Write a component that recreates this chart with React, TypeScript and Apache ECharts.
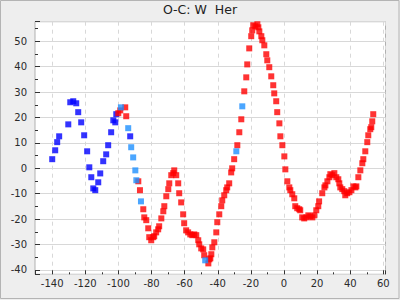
import React, { useEffect, useRef } from "react";
import * as echarts from "echarts";

const titleText = "O-C: W  Her";

const blueSeries: [number, number][] = [
  [-140, 3.6], [-138.2, 7.1], [-137, 10.3], [-135.8, 12.6], [-130.3, 17.3], [-129.1, 26.0],
  [-127.3, 26.4], [-125.5, 25.6], [-124.3, 22.1], [-122.5, 18.1], [-120.7, 13.0], [-118.9, 6.7],
  [-117.6, 0.4], [-116.4, -3.5], [-115.2, -7.9], [-114, -8.6], [-112.2, -5.5], [-111, -2.0],
  [-109.2, 2.8], [-107.4, 5.5], [-106.2, 9.1], [-104.4, 14.2], [-103.1, 18.9], [-101.9, 18.1],
  [-101.3, 21.3], [-92.9, 12.6],
];

const lightBlueSeries: [number, number][] = [
  [-98.5, 24.0], [-94.1, 15.8], [-92.3, 8.3], [-91.1, 4.3], [-89.8, -0.8], [-89.2, -4.7],
  [-86.4, -13.0], [-47.6, -36.2], [-28.8, 6.7], [-25.2, 24.4],
];

const redSeries: [number, number][] = [
  [-100.1, 21.7], [-98.9, 22.8], [-95.9, 24.0], [-95.3, 20.5], [-88.0, -5.1], [-87.0, -8.6],
  [-85.0, -16.1], [-84.4, -19.3], [-83.2, -20.4], [-82.0, -23.6], [-81.4, -27.1], [-80.2, -28.3],
  [-79.0, -27.1], [-78.4, -26.7], [-77.2, -25.2], [-76.0, -24.0], [-75.4, -22.8], [-74.1, -19.7],
  [-72.9, -16.9], [-72.3, -14.9], [-71.1, -11.0], [-69.9, -8.2], [-69.3, -5.9], [-68.1, -2.7],
  [-66.9, -1.9], [-66.3, -0.8], [-65.1, -2.7], [-63.9, -5.9], [-63.3, -9.8], [-62.1, -13.4],
  [-60.9, -18.1], [-60.3, -21.6], [-59.1, -24.4], [-57.9, -25.2], [-56.6, -26.0], [-55.4, -26.3],
  [-54.2, -26.0], [-53.0, -26.3], [-51.8, -28.3], [-51.2, -29.9], [-50.0, -31.5], [-48.8, -31.9],
  [-48.2, -34.2], [-45.7, -37.4], [-45.1, -35.8], [-44.5, -35.4], [-43.9, -33.8], [-43.3, -31.1],
  [-42.1, -29.1], [-40.9, -25.2], [-40.3, -21.2], [-39.1, -18.1], [-37.9, -14.9], [-37.3, -12.6],
  [-36.1, -10.6], [-34.9, -8.6], [-34.3, -7.5], [-33.1, -5.9], [-31.9, -1.6], [-31.3, 0.0],
  [-30.1, 3.6], [-28.2, 9.1], [-27.0, 14.2], [-25.8, 19.3], [-24.0, 30.3], [-22.8, 35.8],
  [-22.2, 40.9], [-21.0, 47.2], [-19.8, 52.0], [-19.2, 54.3], [-18.6, 56.3], [-17.3, 55.9],
  [-16.1, 56.7], [-15.5, 55.5], [-14.9, 53.9], [-13.7, 52.0], [-13.1, 50.4], [-11.9, 48.4],
  [-10.7, 44.9], [-10.1, 42.5], [-8.9, 39.8], [-7.7, 36.2], [-6.5, 32.7], [-5.9, 29.5],
  [-4.7, 26.4], [-4.1, 22.1], [-2.8, 17.7], [-2.2, 12.6], [-1.0, 9.1], [0.2, 4.7],
  [0.8, -0.4], [2.0, -5.1], [3.2, -7.5], [3.8, -8.6], [5.0, -10.2], [6.2, -11.8],
  [6.8, -14.9], [8.0, -15.7], [9.2, -16.1], [9.8, -16.5], [11.0, -19.3], [12.2, -19.7],
  [13.5, -19.3], [14.7, -18.5], [15.9, -18.9], [17.1, -19.3], [18.3, -18.5], [19.5, -16.5],
  [20.7, -14.9], [21.2, -13.0], [23.1, -9.8], [24.4, -7.5], [25.0, -6.7], [26.2, -5.1],
  [27.4, -3.5], [28.0, -2.3], [29.2, -2.7], [30.4, -1.9], [31.6, -3.5], [32.8, -4.3],
  [33.4, -5.9], [34.0, -7.5], [35.2, -8.2], [36.4, -9.0], [37.0, -10.6], [38.2, -9.8],
  [39.5, -9.4], [40.7, -8.6], [41.9, -7.1], [43.1, -7.5], [43.7, -7.1], [44.9, -3.5],
  [46.1, -0.8], [47.3, 2.0], [47.9, 3.6], [49.1, 6.7], [50.3, 10.3], [50.9, 13.0],
  [52.1, 15.4], [52.7, 16.2], [53.3, 18.5], [53.9, 21.3],
];

const xRange = [-150.4, 61.3];
const yRange = [-41.7, 57.7];

const FONT = "DejaVu Sans";

export default function App() {
  const ref = useRef<HTMLDivElement>(null);
  useEffect(() => {
    if (!ref.current) return;
    const chart = echarts.init(ref.current, undefined, { renderer: "svg" });
    const labelStyle = { color: "#2a2a2a", fontSize: 10, fontFamily: FONT };
    chart.setOption({
      animation: false,
      backgroundColor: "#eeeeee",
      title: {
        text: titleText,
        left: "center",
        top: 3,
        padding: 0,
        textStyle: { fontFamily: FONT, fontSize: 12.5, fontWeight: "normal", color: "#222" },
      },
      graphic: [
        {
          type: "rect",
          shape: { x: 0.5, y: 0.5, width: 398.5, height: 298 },
          style: { fill: "none", stroke: "#b4b4b4", lineWidth: 1 },
          silent: true,
        },
      ],
      grid: {
        left: 35,
        right: 14.5,
        top: 21.7,
        bottom: 25.7,
        show: true,
        backgroundColor: "#ffffff",
        borderColor: "#b0b0b0",
        borderWidth: 1,
      },
      xAxis: {
        type: "value",
        position: "bottom",
        min: xRange[0],
        max: xRange[1],
        splitNumber: 10,
        axisLine: { show: false, onZero: false },
        axisTick: { show: true, inside: true, length: 4, lineStyle: { color: "#333" } },
        minorTick: { show: true, splitNumber: 2, length: 2, lineStyle: { color: "#333" } },
        axisLabel: {
          ...labelStyle,
          margin: 4,
          formatter: (v: number) => (Math.abs(v % 20) < 1e-6 ? String(v) : ""),
        },
        splitLine: { show: true, lineStyle: { color: "#d8d8d8", type: [4, 4] } },
      },
      yAxis: {
        type: "value",
        position: "left",
        min: yRange[0],
        max: yRange[1],
        splitNumber: 10,
        axisLine: { show: false, onZero: false },
        axisTick: { show: true, inside: true, length: 5, lineStyle: { color: "#333" } },
        minorTick: { show: true, splitNumber: 2, length: 3, lineStyle: { color: "#333" } },
        axisLabel: {
          ...labelStyle,
          margin: 8,
          formatter: (v: number) => (Math.abs(v % 10) < 1e-6 ? String(v) : ""),
        },
        splitLine: { show: true, lineStyle: { color: "#d8d8d8", type: "solid" } },
      },
      series: [
        {
          type: "scatter",
          data: blueSeries,
          symbol: "rect",
          symbolSize: 6,
          itemStyle: { color: "#0000ff" },
        },
        {
          type: "scatter",
          data: redSeries,
          symbol: "rect",
          symbolSize: 6,
          itemStyle: { color: "#ff0000" },
        },
        {
          type: "scatter",
          data: lightBlueSeries,
          symbol: "rect",
          symbolSize: 6,
          itemStyle: { color: "#1e90ff" },
        },
      ],
    });
    return () => chart.dispose();
  }, []);
  return (
    <div
      ref={ref}
      style={{ position: "fixed", left: 0, top: 0, width: 400, height: 300 }}
    />
  );
}
